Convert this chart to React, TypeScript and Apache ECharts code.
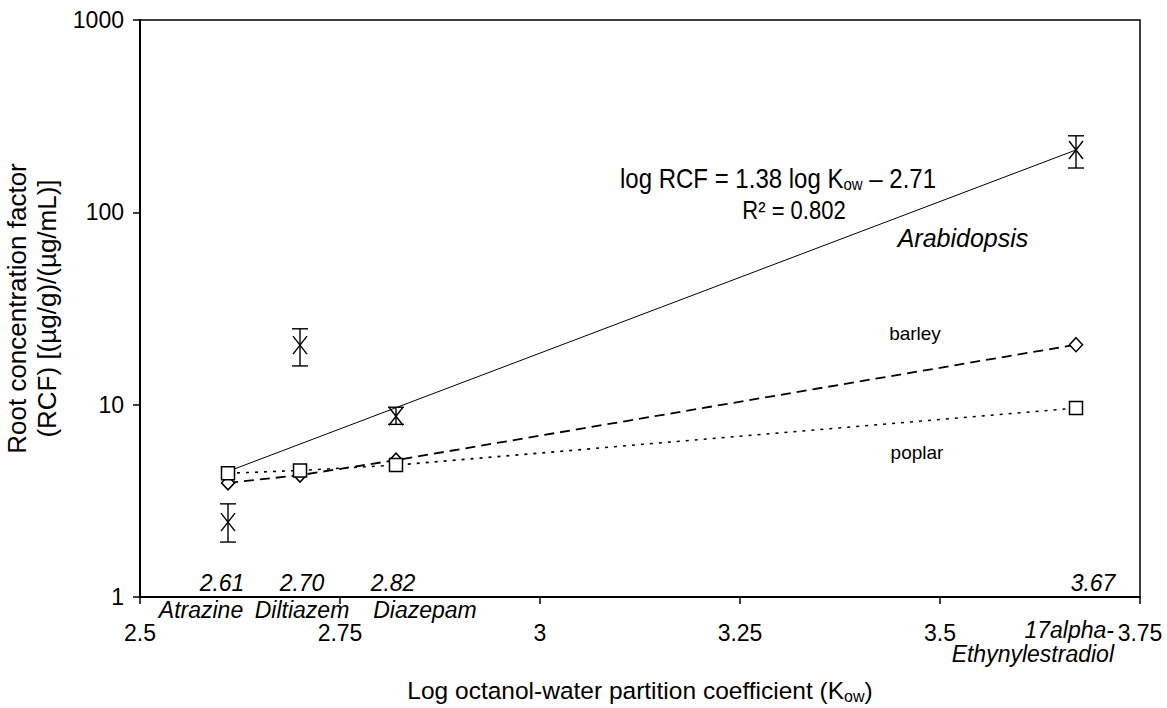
import React, { useEffect, useRef } from "react";
import * as echarts from "echarts";

const compounds = ["Atrazine", "Diltiazem", "Diazepam", "17alpha-\nEthynylestradiol"];
const logKow = [2.61, 2.7, 2.82, 3.67];
const arabidopsis = [2.45, 20.4, 8.7, 211];
const arabidopsisLow = [1.93, 15.9, 7.9, 170];
const arabidopsisHigh = [3.05, 24.8, 9.7, 250];
const barley = [3.92, 4.3, 5.15, 20.5];
const poplar = [4.4, 4.55, 4.85, 9.6];
const trendX = [2.61, 3.67];
const trendY = [4.5, 211];
const xTicks = ["2.5", "2.75", "3", "3.25", "3.5", "3.75"];
const yTicks = ["1", "10", "100", "1000"];

const FONT = "'Liberation Sans', Arial, sans-serif";

export default function App() {
  const ref = useRef<HTMLDivElement>(null);
  useEffect(() => {
    if (!ref.current) return;
    const chart = echarts.init(ref.current, null, { renderer: "svg" });

    const errData = logKow.map((x, i) => [x, arabidopsis[i], arabidopsisLow[i], arabidopsisHigh[i]]);
    const numOffsets = [[-6, 0], [2, 0], [-3, 0], [17, 0]];
    const nameOffsets = [[-27, 0], [2, 0], [29, 0], [38, 20]];

    const option: any = {
      animation: false,
      backgroundColor: "#fff",
      textStyle: { fontFamily: FONT, color: "#000" },
      grid: {
        left: 140,
        right: 27,
        top: 20,
        bottom: 111,
        outerBoundsMode: "none",
        containLabel: false,
        show: true,
        borderColor: "#000",
        borderWidth: 1.5,
        backgroundColor: "transparent",
      },
      xAxis: {
        type: "value",
        min: 2.5,
        max: 3.75,
        interval: 0.25,
        axisLine: { show: true, lineStyle: { color: "#000", width: 2 } },
        axisTick: { show: true, length: 7, lineStyle: { color: "#000", width: 1.5 } },
        splitLine: { show: false },
        axisLabel: {
          fontSize: 23,
          color: "#000",
          fontFamily: FONT,
          margin: 24,
          formatter: (v: number) => {
            const s = xTicks.find((t) => Math.abs(parseFloat(t) - v) < 1e-6);
            return s ?? "";
          },
        },
        name: "Log octanol-water partition coefficient (K{sub|ow})",
        nameLocation: "middle",
        nameGap: 80,
        nameTextStyle: {
          fontSize: 24.5,
          color: "#000",
          fontFamily: FONT,
          rich: { sub: { fontSize: 16, fontFamily: FONT, padding: [11, 0, 0, 0] } },
        },
      },
      yAxis: {
        type: "log",
        logBase: 10,
        min: 1,
        max: 1000,
        axisLine: { show: true, lineStyle: { color: "#000", width: 2 } },
        axisTick: { show: true, length: 7, lineStyle: { color: "#000", width: 1.5 } },
        minorTick: { show: false },
        splitLine: { show: false },
        axisLabel: {
          fontSize: 23,
          color: "#000",
          fontFamily: FONT,
          margin: 16,
          formatter: (v: number) => {
            const s = yTicks.find((t) => Math.abs(parseFloat(t) - v) < 1e-6);
            return s ?? "";
          },
        },
        name: "Root concentration factor\n(RCF) [(µg/g)/(µg/mL)]",
        nameLocation: "middle",
        nameGap: 66,
        nameTextStyle: { fontSize: 26, lineHeight: 30, color: "#000", fontFamily: FONT },
      },
      series: [
        {
          name: "Arabidopsis trend",
          type: "line",
          data: trendX.map((x, i) => [x, trendY[i]]),
          symbol: "none",
          lineStyle: { color: "#000", width: 1 },
          silent: true,
          z: 2,
        },
        {
          name: "barley",
          type: "line",
          data: logKow.map((x, i) => [x, barley[i]]),
          symbol: "diamond",
          symbolSize: [13, 14],
          showSymbol: true,
          lineStyle: { color: "#000", width: 1.8, type: [10, 6] },
          itemStyle: { color: "#fff", borderColor: "#000", borderWidth: 1.5 },
          z: 3,
        },
        {
          name: "poplar",
          type: "line",
          data: logKow.map((x, i) => [x, poplar[i]]),
          symbol: "rect",
          symbolSize: 13,
          lineStyle: { color: "#000", width: 1.6, type: [3, 6] },
          itemStyle: { color: "#fff", borderColor: "#000", borderWidth: 1.5 },
          z: 4,
        },
        {
          name: "Arabidopsis",
          type: "custom",
          data: errData,
          z: 5,
          renderItem: (params: any, api: any) => {
            const x = api.value(0);
            const p = api.coord([x, api.value(1)]);
            const lo = api.coord([x, api.value(2)]);
            const hi = api.coord([x, api.value(3)]);
            const cap = 8;
            const mx = 7;
            const my = 9;
            const st = { stroke: "#000", lineWidth: 1.4 };
            return {
              type: "group",
              children: [
                { type: "line", shape: { x1: p[0], y1: lo[1], x2: p[0], y2: hi[1] }, style: st },
                { type: "line", shape: { x1: p[0] - cap, y1: lo[1], x2: p[0] + cap, y2: lo[1] }, style: st },
                { type: "line", shape: { x1: p[0] - cap, y1: hi[1], x2: p[0] + cap, y2: hi[1] }, style: st },
                { type: "line", shape: { x1: p[0] - mx, y1: p[1] - my, x2: p[0] + mx, y2: p[1] + my }, style: st },
                { type: "line", shape: { x1: p[0] - mx, y1: p[1] + my, x2: p[0] + mx, y2: p[1] - my }, style: st },
              ],
            };
          },
        },
        {
          name: "logKow values",
          type: "scatter",
          symbolSize: 0,
          silent: true,
          data: logKow.map((x, i) => ({
            value: [x, 1],
            label: {
              show: true,
              position: "top",
              distance: 3,
              offset: numOffsets[i],
              formatter: x.toFixed(2),
              fontSize: 23,
              fontStyle: "italic",
              color: "#000",
              opacity: 1,
              fontFamily: FONT,
            },
          })),
        },
        {
          name: "compounds",
          type: "scatter",
          symbolSize: 0,
          silent: true,
          data: logKow.map((x, i) => ({
            value: [x, 1],
            label: {
              show: true,
              position: "bottom",
              distance: 1,
              offset: nameOffsets[i],
              align: i === 3 ? "right" : "center",
              formatter: compounds[i],
              fontSize: 23,
              lineHeight: 24,
              fontStyle: "italic",
              color: "#000",
              opacity: 1,
              fontFamily: FONT,
            },
          })),
        },
      ],
      graphic: [
        {
          type: "text",
          x: 778,
          y: 178,
          scaleY: 1.15,
          style: {
            text: "log RCF = 1.38 log K{sub|ow} – 2.71",
            fontSize: 24,
            fontFamily: FONT,
            fill: "#000",
            align: "center",
            verticalAlign: "middle",
            rich: { sub: { fontSize: 15, fontFamily: FONT, padding: [9, 0, 0, 0] } },
          },
        },
        {
          type: "text",
          x: 794,
          y: 210,
          scaleY: 1.15,
          style: {
            text: "R² = 0.802",
            fontSize: 22,
            fontFamily: FONT,
            fill: "#000",
            align: "center",
            verticalAlign: "middle",
          },
        },
        {
          type: "text",
          x: 963,
          y: 238,
          style: {
            text: "Arabidopsis",
            fontSize: 25,
            fontStyle: "italic",
            fontFamily: FONT,
            fill: "#000",
            align: "center",
            verticalAlign: "middle",
          },
        },
        {
          type: "text",
          x: 915,
          y: 333,
          style: { text: "barley", fontSize: 19, fontFamily: FONT, fill: "#000", align: "center", verticalAlign: "middle" },
        },
        {
          type: "text",
          x: 917,
          y: 452,
          style: { text: "poplar", fontSize: 19, fontFamily: FONT, fill: "#000", align: "center", verticalAlign: "middle" },
        },
      ],
    };
    chart.setOption(option);
    return () => chart.dispose();
  }, []);
  return (
    <div
      ref={ref}
      style={{ position: "fixed", left: 0, top: 0, width: 1167, height: 708, background: "#fff" }}
    />
  );
}
